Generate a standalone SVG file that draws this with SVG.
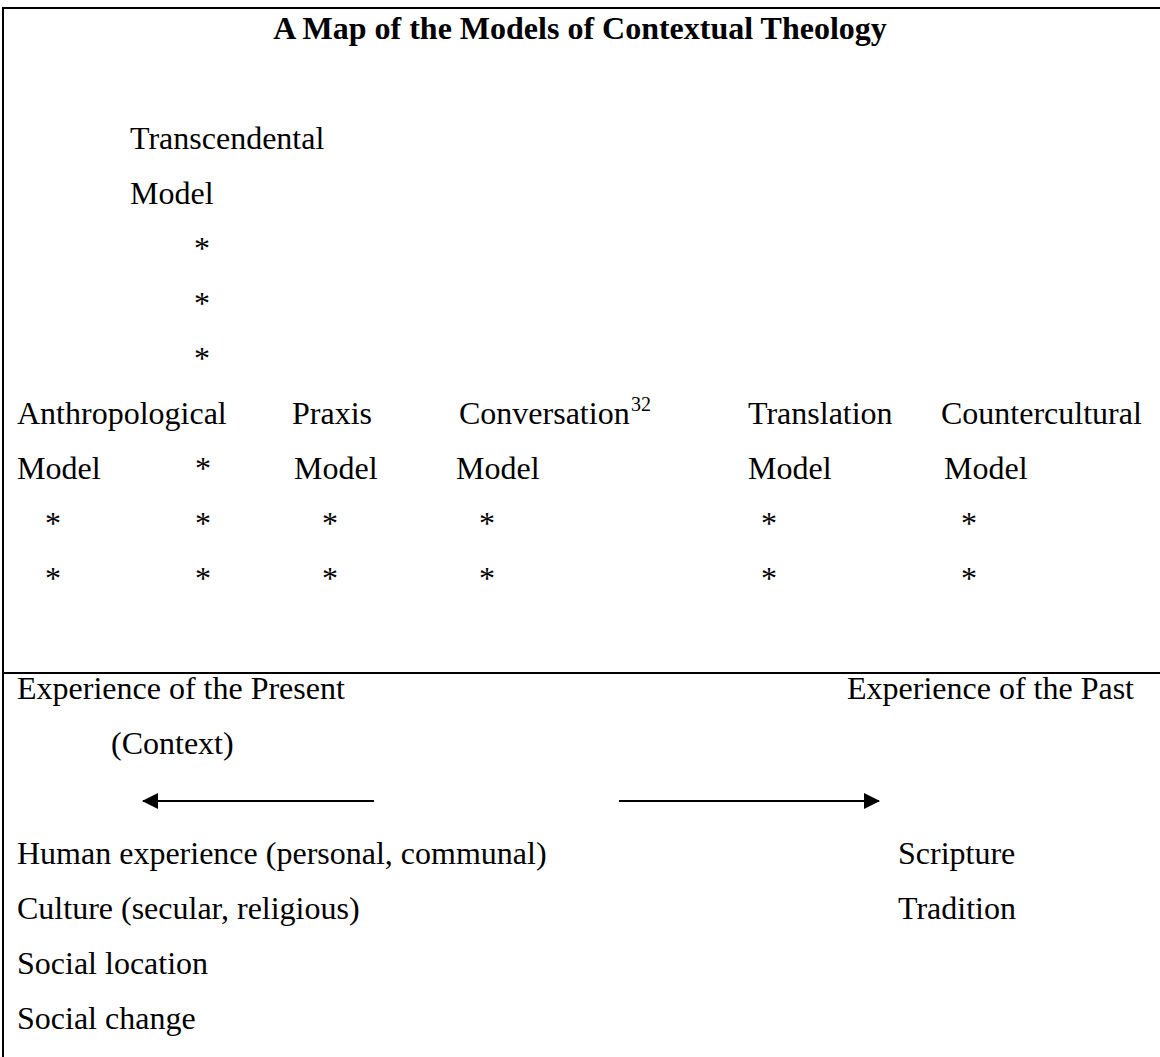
<svg xmlns="http://www.w3.org/2000/svg" width="1160" height="1057" viewBox="0 0 1160 1057">
  <style>
    text { font-family: "Liberation Serif", "Times New Roman", serif; font-size: 32px; fill: #000; }
    .title { font-weight: bold; text-anchor: middle; }
    .star { text-anchor: middle; }
    .sup { font-size: 20px; }
    .rule { stroke: #000; stroke-width: 2; fill: none; }
    .arrow { stroke: #000; stroke-width: 2; fill: none; marker-end: url(#head); }
  </style>
  <defs>
    <marker id="head" viewBox="0 0 16 16" refX="15" refY="8" markerWidth="16" markerHeight="16" markerUnits="userSpaceOnUse" orient="auto">
      <path d="M0,0 L16,8 L0,16 Z" fill="#000"/>
    </marker>
  </defs>
  <rect width="1160" height="1057" fill="#fff"/>

  <!-- frame: top rule, left rule, divider between the two panels -->
  <g id="frame">
    <line class="rule" x1="2" y1="8" x2="1160" y2="8"/>
    <line class="rule" x1="3" y1="7" x2="3" y2="1057"/>
    <line class="rule" x1="2" y1="673" x2="1160" y2="673"/>
  </g>

  <text id="title" class="title" x="580" y="39">A Map of the Models of Contextual Theology</text>

  <g id="transcendental">
    <text x="130" y="149">Transcendental</text>
    <text x="130" y="204">Model</text>
    <text class="star" x="202" y="259">*</text>
    <text class="star" x="202" y="314">*</text>
    <text class="star" x="202" y="369">*</text>
  </g>

  <g id="anthropological">
    <text x="17" y="424">Anthropological</text>
    <text x="17" y="479">Model</text>
    <text class="star" x="53" y="534">*</text>
    <text class="star" x="53" y="589">*</text>
  </g>

  <!-- column of markers between the anthropological and praxis models -->
  <g id="mid-column">
    <text class="star" x="203" y="479">*</text>
    <text class="star" x="203" y="534">*</text>
    <text class="star" x="203" y="589">*</text>
  </g>

  <g id="praxis">
    <text x="292" y="424">Praxis</text>
    <text x="294" y="479">Model</text>
    <text class="star" x="330" y="534">*</text>
    <text class="star" x="330" y="589">*</text>
  </g>

  <g id="conversation">
    <text x="459" y="424">Conversation</text>
    <text class="sup" x="631" y="411">32</text>
    <text x="456" y="479">Model</text>
    <text class="star" x="487" y="534">*</text>
    <text class="star" x="487" y="589">*</text>
  </g>

  <g id="translation">
    <text x="748" y="424">Translation</text>
    <text x="748" y="479">Model</text>
    <text class="star" x="769" y="534">*</text>
    <text class="star" x="769" y="589">*</text>
  </g>

  <g id="countercultural">
    <text x="941" y="424">Countercultural</text>
    <text x="944" y="479">Model</text>
    <text class="star" x="969" y="534">*</text>
    <text class="star" x="969" y="589">*</text>
  </g>

  <g id="present">
    <text x="17" y="699">Experience of the Present</text>
    <text x="111" y="754">(Context)</text>
    <text x="17" y="864">Human experience (personal, communal)</text>
    <text x="17" y="919">Culture (secular, religious)</text>
    <text x="17" y="974">Social location</text>
    <text x="17" y="1029">Social change</text>
  </g>

  <g id="past">
    <text x="1134" y="699" text-anchor="end">Experience of the Past</text>
    <text x="898" y="864">Scripture</text>
    <text x="898" y="919">Tradition</text>
  </g>

  <g id="connectors">
    <line class="arrow" x1="374" y1="801" x2="143" y2="801"/>
    <line class="arrow" x1="619" y1="801" x2="879" y2="801"/>
  </g>
</svg>
